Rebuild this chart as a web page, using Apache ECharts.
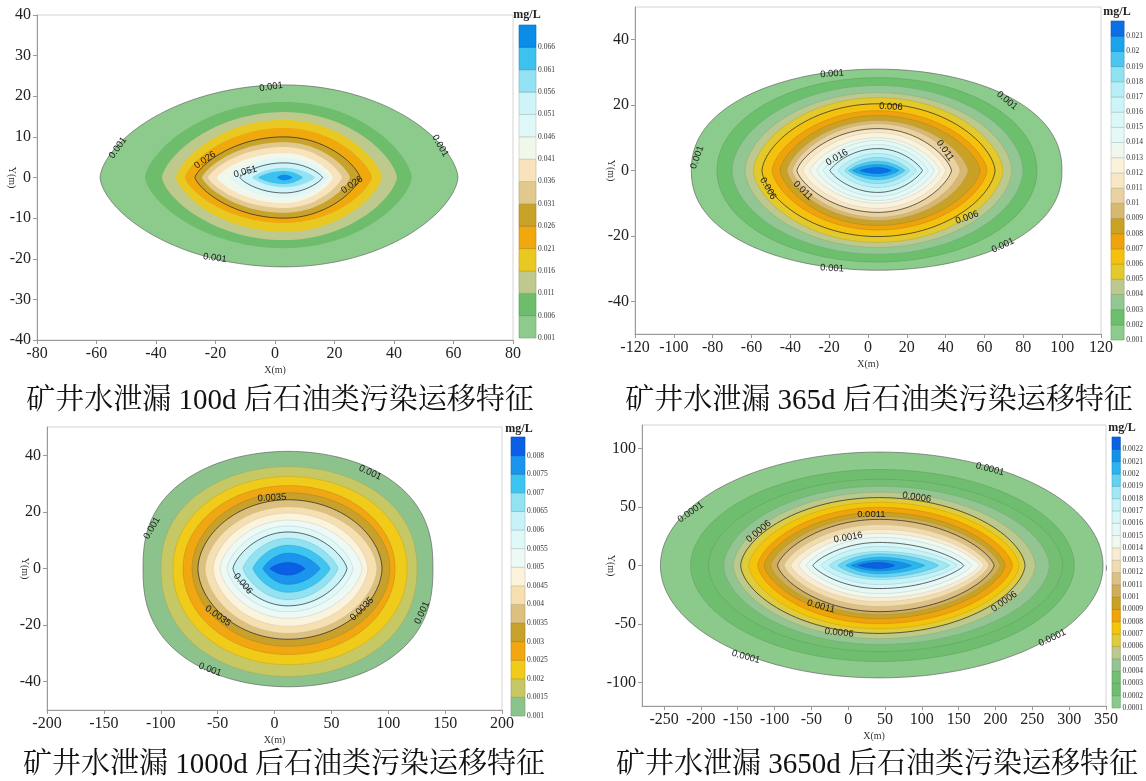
<!DOCTYPE html>
<html><head><meta charset="utf-8">
<script src="https://cdn.jsdelivr.net/npm/echarts@6/dist/echarts.min.js"></script>
<style>html,body{margin:0;padding:0;background:#fff}#c{width:1146px;height:781px}</style>
</head><body><div id="c"></div>
<script>
// ================= DATA =================
// Panel 1 : 100 d
const p1Levels = [0.001,0.006,0.011,0.016,0.021,0.026,0.031,0.036,0.041,0.046,0.051,0.056,0.061,0.066];
const p1Left   = [-58.8,-43.7,-38,-33.3,-30.3,-26.9,-24.5,-22.5,-19.5,-15.1,-11.8,-7.7,-5.7,0.7];
const p1Right  = [61.5,46,41,36,32.6,28.6,25.2,22.5,19.5,18,16,13.5,9.4,6];
const p1Top    = [22.8,18.6,16.1,14.2,12.2,10,8.7,7.5,6,4.8,3.6,2.4,1.6,0.7];
const p1Bottom = [-22,-17.4,-15.4,-13.4,-11.2,-10,-8.7,-7.5,-6.3,-5,-3.8,-2.4,-1.6,-0.7];
const p1Source = 3;
const p1LabelX = [-1.3,-52.8,55.5,-20.2,-23.5,-10,25.9];
const p1LabelY = [22.3,7.3,7.8,-19.8,4.3,1.4,-1.8];
const p1LabelT = ['0.001','0.001','0.001','0.001','0.026','0.051','0.026'];
const p1LabelA = [8,55,-60,-8,35,15,35];

// Panel 2 : 365 d
const p2Levels = [0.001,0.002,0.003,0.004,0.005,0.006,0.007,0.008,0.009,0.01,0.011,0.012,0.013,0.014,0.015,0.016,0.017,0.018,0.019,0.02,0.021];
const p2Left   = [-91,-77.8,-70,-63.3,-59,-54.6,-49.4,-45.3,-41.7,-39,-36.6,-33.5,-29.9,-26.3,-23,-19.6,-15.5,-12,-10,-8,-4];
const p2Right  = [99.9,87,79.8,74,69.5,65.4,61.3,57.7,51.5,47.4,43,40,37,34,31,28,25,21.5,19,16,12];
const p2Top    = [31,28.4,26,23.8,22.3,20.4,18.3,16.8,15.3,14.3,12.8,11.6,10,9.2,7.9,6.7,5.2,4,2.8,1.8,0.9];
const p2Bottom = [-30.5,-28,-25.6,-23.5,-22,-20.2,-18.2,-16.8,-15.3,-14.3,-12.8,-11.6,-10,-9.2,-7.9,-6.7,-5.2,-4,-2.8,-1.8,-0.9];
const p2Source = 5;
const p2LabelX = [-18.5,71.6,-88,11.8,39.7,-16,-51.5,-33.5,51,69.5,-18.5];
const p2LabelY = [29.6,21.4,4,19.5,6.1,4,-5.5,-6.1,-14.4,-22.9,-29.9];
const p2LabelT = ['0.001','0.001','0.001','0.006','0.011','0.016','0.006','0.011','0.006','0.001','0.001'];
const p2LabelA = [4,-40,70,-3,-55,30,-60,-45,20,25,-3];

// Panel 3 : 1000 d
const p3Levels = [0.001,0.0015,0.002,0.0025,0.003,0.0035,0.004,0.0045,0.005,0.0055,0.006,0.0065,0.007,0.0075,0.008];
const p3Left   = [-115.6,-99.8,-89.2,-80.4,-72.5,-67.3,-61,-54,-47.9,-41.8,-36.5,-27.7,-18.9,-10.1,-4];
const p3Right  = [139.3,125.3,116.5,106,101.5,94.5,90,82,76.9,69,63.7,55.8,48.8,40,26.8];
const p3Top    = [41.4,36,32.5,29.3,26.8,24.3,21.8,19.6,17.1,15,12.9,10.7,8.2,5.4,2.1];
const p3Bottom = [-41.8,-38.2,-34,-30.4,-27.5,-25,-22.9,-20.4,-17.6,-15.3,-13.2,-11,-8.4,-5.6,-2.3];
const p3Source = 12;
const p3LabelX = [84,-2.2,-107.7,-27.7,-49.7,76.9,129.7,-56.7];
const p3LabelY = [33.9,25,14.3,-5.4,-16.8,-14.3,-15.7,-35.7];
const p3LabelT = ['0.001','0.0035','0.001','0.006','0.0035','0.0035','0.001','0.001'];
const p3LabelA = [-25,3,60,-50,-35,45,65,-20];

// Panel 4 : 3650 d
const p4Levels = [0.0001,0.0002,0.0003,0.0004,0.0005,0.0006,0.0007,0.0008,0.0009,0.001,0.0011,0.0012,0.0013,0.0014,0.0015,0.0016,0.0017,0.0018,0.0019,0.002,0.0021,0.0022];
const p4Left   = [-255,-214,-190,-169,-156,-146,-135,-123,-114,-105,-96,-87,-78,-67,-57,-48,-37,-26,-14,-3,4,14];
const p4Right  = [346,307,291,273,254,240,232,223,213,206,198,191,184,178,168,157,148,138,123,104,86,63];
const p4Top    = [96.9,82,73.7,67.7,62.6,58,54,49.7,45.4,42,39.4,35,30.9,27.4,24,19.7,16.3,12,10,7,4.5,2.6];
const p4Bottom = [-96,-82,-73.5,-67.5,-62.5,-58,-54,-49.7,-45.4,-42,-39.4,-35,-30.9,-27.4,-24,-19.7,-16.3,-12,-10,-7,-4.5,-2.6];
const p4Source = 42;
const p4LabelX = [-214,-121.6,31.4,0,192.6,92.9,211.7,277,-37,-12.3,-139];
const p4LabelY = [45.4,29.1,43.7,24,82.3,58.3,-30.9,-61.7,-35,-57.4,-78];
const p4LabelT = ['0.0001','0.0006','0.0011','0.0016','0.0001','0.0006','0.0006','0.0001','0.0011','0.0006','0.0001'];
const p4LabelA = [35,40,0,10,-15,-8,35,25,-15,-5,-15];

const captions = ['矿井水泄漏 100d 后石油类污染运移特征','矿井水泄漏 365d 后石油类污染运移特征','矿井水泄漏 1000d 后石油类污染运移特征','矿井水泄漏 3650d 后石油类污染运移特征'];

// ================= STYLE =================
const p1Colors = ['#8dcb8d','#6dbd6d','#bec98e','#e9c921','#f0a90c','#c9a22a','#e1c98d','#f8e3bd','#f1f7ea','#e0f7f8','#cef3f8','#93e1f1','#3dc2f0','#0b8ce8'];
const p2Colors = ['#8bcb8b','#6cbf6c','#92c692','#bcc98e','#e4c92c','#f4c20e','#eea20c','#c9a124','#d6b870','#e9d1a0','#f8e7c4','#fbf2dc','#eef8ee','#e4f8f6','#dbf8f8','#cdf5f8','#b6eff7','#8ee2f2','#4cc6f0','#1aa4ec','#0c6fe4'];
const p3Colors = ['#8cc38c','#c6c866','#f0cb1a','#f0a712','#c8a02c','#dcc07e','#f6e0b2','#fcf3dc','#edf9f5','#dff8f8','#c6f2f8','#92e2f2','#3ec4f0','#1a94ec','#0a5fe6'];
const p4Colors = ['#8cca8c','#6fbe6f','#74bf74','#92c592','#bcc98c','#dfcb3e','#f3c50a','#efa30c','#c9a123','#cfae5a','#dcc086','#f1dcae','#f9ecd2','#f1f9ee','#e5f8f6','#d8f7f8','#c5f3f8','#a0e9f4','#64d2f1','#2bb4ef','#1590e9','#0a62e2'];
const p1Shape = [0.62,0.66,0.68,0.7,0.72,0.74,0.75,0.76,0.77,0.78,0.8,0.85,0.9,0.95];
const p2Shape = [0.45,0.5,0.55,0.57,0.6,0.62,0.64,0.66,0.68,0.7,0.72,0.74,0.76,0.78,0.8,0.82,0.84,0.86,0.9,0.92,0.95];
const p3Shape = [0.4,0.45,0.48,0.5,0.52,0.55,0.58,0.6,0.64,0.68,0.72,0.76,0.8,0.85,0.9];
const p4Shape = [0.5,0.52,0.54,0.56,0.58,0.6,0.62,0.64,0.66,0.68,0.7,0.72,0.74,0.76,0.78,0.8,0.82,0.84,0.86,0.9,0.92,0.95];

const panels = [
  {levels:p1Levels,left:p1Left,right:p1Right,top:p1Top,bottom:p1Bottom,src:p1Source,shape:p1Shape,colors:p1Colors,
   lx:p1LabelX,ly:p1LabelY,lt:p1LabelT,la:p1LabelA,major:[0,5,10],minor:false,
   grid:{left:37,top:15,width:476,height:325},cb:{left:519,top:25,width:17,height:313},unit:[527,15],cap:[280,401],
   x:{min:-80,max:80,interval:20},y:{min:-40,max:40,interval:10},yGap:20},
  {levels:p2Levels,left:p2Left,right:p2Right,top:p2Top,bottom:p2Bottom,src:p2Source,shape:p2Shape,colors:p2Colors,
   lx:p2LabelX,ly:p2LabelY,lt:p2LabelT,la:p2LabelA,major:[0,5,10,15],minor:true,
   grid:{left:635,top:7,width:466,height:327},cb:{left:1111,top:21,width:17,height:319},unit:[1117,12],cap:[879,401],
   x:{min:-120,max:120,interval:20},y:{min:-50,max:50,custom:[-40,-20,0,20,40]},yGap:19},
  {levels:p3Levels,left:p3Left,right:p3Right,top:p3Top,bottom:p3Bottom,src:p3Source,shape:p3Shape,colors:p3Colors,
   lx:p3LabelX,ly:p3LabelY,lt:p3LabelT,la:p3LabelA,major:[0,5,10],minor:true,
   grid:{left:47,top:427,width:455,height:283},cb:{left:511,top:437,width:14,height:279},unit:[519,429],cap:[284,765],
   x:{min:-200,max:200,interval:50},y:{min:-50,max:50,custom:[-40,-20,0,20,40]},yGap:17},
  {levels:p4Levels,left:p4Left,right:p4Right,top:p4Top,bottom:p4Bottom,src:p4Source,shape:p4Shape,colors:p4Colors,
   lx:p4LabelX,ly:p4LabelY,lt:p4LabelT,la:p4LabelA,major:[0,5,10,15],minor:true,topTicks:true,
   grid:{left:642,top:425,width:464,height:281},cb:{left:1112,top:437,width:16,height:271},unit:[1122,428],cap:[877,765],
   x:{min:-280,max:350,custom:[-250,-200,-150,-100,-50,0,50,100,150,200,250,300,350]},y:{min:-120,max:120,custom:[-100,-50,0,50,100]},yGap:26}
];

function darken(hex, f){
  const n = parseInt(hex.slice(1),16);
  const r = Math.round(((n>>16)&255)*f), g = Math.round(((n>>8)&255)*f), b = Math.round((n&255)*f);
  return 'rgb('+r+','+g+','+b+')';
}

const SERIF = '"Liberation Serif","Times New Roman",serif';
const grids=[], xAxes=[], yAxes=[], series=[], graphics=[];

function valueAxis(cfg, extra){
  const ax = Object.assign({type:'value', min:cfg.min, max:cfg.max, splitLine:{show:false},
    axisLine:{show:true,onZero:false,lineStyle:{color:'#9a9a9a',width:1}},
    axisTick:{show:true,inside:false,length:4,lineStyle:{color:'#9a9a9a'}},
    axisLabel:{fontFamily:SERIF,fontSize:16,color:'#222',margin:6}}, extra);
  if (cfg.custom){
    ax.interval = 10;
    ax.axisTick = Object.assign({}, ax.axisTick, {customValues:cfg.custom});
    ax.axisLabel = Object.assign({}, ax.axisLabel, {customValues:cfg.custom});
  } else ax.interval = cfg.interval;
  return ax;
}

panels.forEach((p, k) => {
  const gi = grids.length;
  grids.push(Object.assign({show:true,borderColor:'#d4d4d4',borderWidth:1,backgroundColor:'transparent'}, p.grid));
  const xi = xAxes.length;
  xAxes.push(valueAxis(p.x,{gridIndex:gi,position:'bottom',name:'X(m)',nameLocation:'middle',nameGap:25,nameMoveOverlap:false,
    nameTextStyle:{fontFamily:SERIF,fontSize:10,color:'#333'}}));
  const yi = yAxes.length;
  yAxes.push(valueAxis(p.y,{gridIndex:gi,position:'left',name:'Y(m)',nameLocation:'middle',nameGap:p.yGap,nameRotate:-90,nameMoveOverlap:false,
    nameTextStyle:{fontFamily:SERIF,fontSize:10,color:'#333'}}));
  if (p.topTicks){
    const t = valueAxis(p.x,{gridIndex:gi,position:'top'});
    t.axisLabel = Object.assign({}, t.axisLabel, {show:false});
    t.axisLine = {show:false};
    t.axisTick = Object.assign({}, t.axisTick, {inside:true, length:5, lineStyle:{color:'#888'}});
    xAxes.push(t);
  }
  // contour fills
  series.push({type:'custom', xAxisIndex:xi, yAxisIndex:yi, z:2, silent:true,
    data:p.levels.map((v,i)=>[i,0,v]),
    renderItem:function(params, api){
      const i = params.dataIndex;
      const xc=p.src, L=p.left[i], R=p.right[i], T=p.top[i], B=p.bottom[i], q=p.shape[i];
      const N=64, pts=[];
      for(let s=0;s<=N;s++){const th=Math.PI*s/N,t=-Math.cos(th),h=Math.pow(Math.sin(th),2*q);
        const x=t<0?xc+t*(xc-L):xc+t*(R-xc); pts.push(api.coord([x,T*h]));}
      for(let s=N-1;s>=1;s--){const th=Math.PI*s/N,t=-Math.cos(th),h=Math.pow(Math.sin(th),2*q);
        const x=t<0?xc+t*(xc-L):xc+t*(R-xc); pts.push(api.coord([x,B*h]));}
      const major = p.major.indexOf(i)>=0;
      let stroke=null, lw=0;
      if (major){ stroke = i===0 ? '#555' : '#222'; lw = i===0 ? 0.6 : 0.7; }
      else if (p.minor){ stroke = darken(p.colors[i],0.82); lw = 0.5; }
      return {type:'polygon', z2:i, shape:{points:pts}, style:{fill:p.colors[i], stroke:stroke, lineWidth:lw}};
    }});
  // contour labels
  series.push({type:'custom', xAxisIndex:xi, yAxisIndex:yi, z:5, silent:true,
    data:p.lx.map((x,i)=>[x,p.ly[i]]),
    renderItem:function(params, api){
      const i=params.dataIndex; const c=api.coord([api.value(0),api.value(1)]);
      return {type:'text', x:c[0], y:c[1], rotation:p.la[i]*Math.PI/180, z2:200,
        style:{text:p.lt[i], fill:'#1a1a1a', fontSize:9.5, fontFamily:'"Liberation Sans","DejaVu Sans",sans-serif', align:'center', verticalAlign:'middle'}};
    }});
  // colorbar
  const n = p.levels.length;
  const cgi = grids.length;
  grids.push(Object.assign({show:false}, p.cb));
  const cxi = xAxes.length;
  xAxes.push({type:'value',gridIndex:cgi,min:0,max:1,show:false});
  const cyi = yAxes.length;
  yAxes.push({type:'value',gridIndex:cgi,min:0,max:n,interval:1,position:'right',splitLine:{show:false},
    axisLine:{show:false},axisTick:{show:false},
    axisLabel:{fontFamily:SERIF,fontSize:7.5,color:'#333',margin:2,showMaxLabel:true,showMinLabel:true,
      formatter:function(v){ return v<n ? String(p.levels[v]) : ''; }}});
  series.push({type:'custom', xAxisIndex:cxi, yAxisIndex:cyi, z:2, silent:true,
    data:p.levels.map((v,i)=>[0,i,v]),
    renderItem:function(params, api){
      const i=params.dataIndex; const a=api.coord([0,i]), b=api.coord([1,i+1]);
      return {type:'rect', shape:{x:a[0],y:b[1],width:b[0]-a[0],height:a[1]-b[1]},
        style:{fill:p.colors[i], stroke:darken(p.colors[i],0.8), lineWidth:0.6}};
    }});
  graphics.push({type:'text', x:p.unit[0], y:p.unit[1], style:{text:'mg/L', fontFamily:SERIF, fontSize:12, fontWeight:'bold', fill:'#222', align:'center', verticalAlign:'middle'}});
  graphics.push({type:'text', x:p.cap[0], y:p.cap[1], style:{text:captions[k], fontFamily:'"Liberation Serif","Noto Serif CJK SC","Noto Sans CJK SC",serif', fontSize:29, fill:'#111', align:'center', verticalAlign:'middle'}});
});

const chart = echarts.init(document.getElementById('c'), null, {renderer:'canvas'});
chart.setOption({animation:false, backgroundColor:'#fff', grid:grids, xAxis:xAxes, yAxis:yAxes, series:series, graphic:graphics});
</script></body></html>
